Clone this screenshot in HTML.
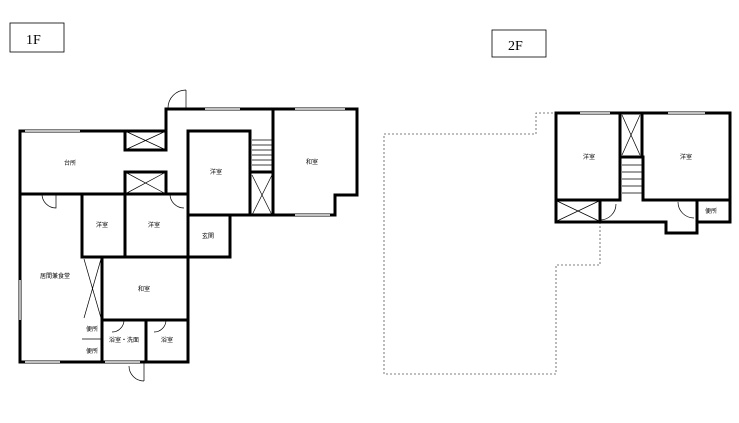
<!DOCTYPE html>
<html><head><meta charset="utf-8"><style>
body{margin:0;background:#fff;width:739px;height:423px;overflow:hidden}
svg{display:block}
text{font-family:"Liberation Sans","Noto Sans CJK JP",sans-serif;font-size:6px;fill:#000}
.w{stroke:#000;stroke-width:3;fill:none;stroke-linecap:square}
.t{stroke:#000;stroke-width:0.7;fill:none}
.d{stroke:#555;stroke-width:0.8;fill:none;stroke-dasharray:2,2}
.win{stroke:#fff;stroke-width:1.4}
</style></head><body>
<svg width="739" height="423" viewBox="0 0 739 423">
<rect x="10" y="23" width="54" height="29" fill="none" stroke="#000" stroke-width="0.8"/>
<text x="26" y="44" style="font-size:14px;font-family:'Liberation Serif',serif">1F</text>
<rect x="492" y="30" width="54" height="27" fill="none" stroke="#000" stroke-width="0.8"/>
<text x="508" y="50" style="font-size:14px;font-family:'Liberation Serif',serif">2F</text>

<!-- 1F walls -->
<g class="w">
<polyline points="20,131 125,131"/>
<polyline points="20,131 20,362 188,362 188,320"/>
<polyline points="166,131 166,109 357,109 357,195 335,195 335,215 230,215 230,257 188,257 188,320"/>
<line x1="20" y1="194" x2="188" y2="194"/>
<line x1="82" y1="194" x2="82" y2="257"/>
<line x1="82" y1="257" x2="188" y2="257"/>
<line x1="125" y1="194" x2="125" y2="257"/>
<line x1="102" y1="257" x2="102" y2="362"/>
<line x1="102" y1="320" x2="188" y2="320"/>
<line x1="146" y1="320" x2="146" y2="362"/>
<line x1="188" y1="131" x2="188" y2="257"/>
<line x1="188" y1="131" x2="250" y2="131"/>
<line x1="250" y1="131" x2="250" y2="215"/>
<line x1="188" y1="215" x2="230" y2="215"/>
<line x1="273" y1="109" x2="273" y2="215"/>
<line x1="252" y1="172" x2="273" y2="172"/>
<rect x="125" y="131" width="41" height="19"/>
<rect x="125" y="172" width="41" height="22"/>
</g>
<g class="t">
<line x1="125" y1="131" x2="166" y2="150"/><line x1="166" y1="131" x2="125" y2="150"/>
<line x1="125" y1="172" x2="166" y2="194"/><line x1="166" y1="172" x2="125" y2="194"/>
<line x1="252" y1="175" x2="272" y2="215"/><line x1="272" y1="175" x2="252" y2="215"/>
<line x1="84" y1="259" x2="101" y2="318"/><line x1="101" y1="259" x2="84" y2="318"/>
<line x1="82" y1="339" x2="102" y2="339"/>
<path d="M252,140 h20 M252,145 h20 M252,150 h20 M252,155 h20 M252,160 h20 M252,165 h20"/>
<path d="M186,90 v19 M186,90 a18,18 0 0,0 -18,18"/>
<path d="M42,194 a14,14 0 0,0 14,14 v-14"/>
<path d="M170,194 a14,14 0 0,0 14,14"/>
<path d="M144,362 v19 M144,381 a15,15 0 0,1 -15,-15"/>
<path d="M124,320 a12,12 0 0,1 -12,12"/>
<path d="M166,320 a12,12 0 0,1 -12,12"/>
</g>
<g class="win">
<line x1="25" y1="131" x2="80" y2="131"/><line x1="205" y1="109" x2="240" y2="109"/>
<line x1="295" y1="109" x2="345" y2="109"/><line x1="20" y1="280" x2="20" y2="320"/>
<line x1="295" y1="215" x2="330" y2="215"/><line x1="25" y1="362" x2="60" y2="362"/>
<line x1="105" y1="362" x2="140" y2="362"/>
</g>
<text x="64" y="165">台所</text><text x="210" y="174">洋室</text><text x="306" y="164">和室</text>
<text x="96" y="227">洋室</text><text x="148" y="227">洋室</text><text x="202" y="238">玄関</text>
<text x="40" y="278">居間兼食堂</text><text x="138" y="291">和室</text>
<text x="86" y="331">便所</text><text x="86" y="353">便所</text>
<text x="109" y="342">浴室・洗面</text><text x="161" y="342">浴室</text>

<!-- dotted -->
<polyline class="d" points="557,113 536,113 536,134 384,134 384,374 556,374 556,265 600,265 600,222"/>
<!-- 2F -->
<g class="w">
<polyline points="556,113 730,113 730,222 697,222 697,233 666,233 666,222 600,222"/>
<polyline points="556,113 556,222 600,222 600,200"/>
<line x1="556" y1="200" x2="620" y2="200"/>
<line x1="620" y1="113" x2="620" y2="200"/>
<line x1="642" y1="113" x2="642" y2="155"/>
<polyline points="620,157 643,157 643,200 730,200"/>
<line x1="697" y1="200" x2="697" y2="222"/>
</g>
<g class="t">
<line x1="557" y1="201" x2="599" y2="221"/><line x1="599" y1="201" x2="557" y2="221"/>
<line x1="622" y1="115" x2="640" y2="155"/><line x1="640" y1="115" x2="622" y2="155"/>
<path d="M622,165 h20 M622,172 h20 M622,179 h20 M622,186 h20 M622,193 h20"/>
<path d="M600,220 a16,16 0 0,0 16,-16"/>
<path d="M678,202 a16,16 0 0,0 16,16"/>
</g>
<g class="win"><line x1="580" y1="113" x2="610" y2="113"/><line x1="668" y1="113" x2="705" y2="113"/></g>
<text x="583" y="159">洋室</text><text x="680" y="159">洋室</text><text x="705" y="213">便所</text>
</svg>
</body></html>
